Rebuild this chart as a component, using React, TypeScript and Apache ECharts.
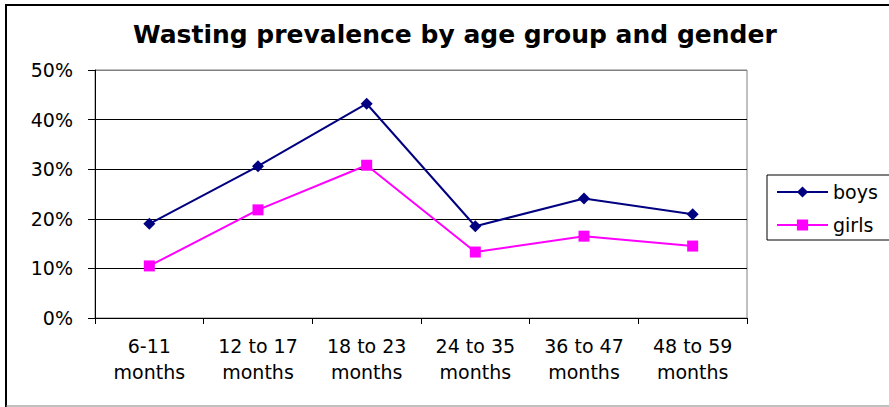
import React, { useEffect, useRef } from "react";
import * as echarts from "echarts";

const titleText = "Wasting prevalence by age group and gender";
const categories = [
  "6-11\nmonths",
  "12 to 17\nmonths",
  "18 to 23\nmonths",
  "24 to 35\nmonths",
  "36 to 47\nmonths",
  "48 to 59\nmonths",
];
const boys = [0.19, 0.306, 0.432, 0.185, 0.241, 0.209];
const girls = [0.105, 0.218, 0.308, 0.133, 0.165, 0.145];

const FONT = "'DejaVu Sans', sans-serif";

export default function App() {
  const ref = useRef<HTMLDivElement>(null);
  useEffect(() => {
    document.body.style.margin = "0";
    const chart = echarts.init(ref.current!, undefined, { renderer: "svg" });
    chart.setOption({
      animation: false,
      backgroundColor: "#ffffff",
      title: {
        text: titleText,
        left: 133,
        top: 22,
        padding: 0,
        textStyle: { fontFamily: FONT, fontWeight: "bold", fontSize: 25, color: "#000" },
      },
      legend: {
        orient: "vertical",
        left: 767,
        top: 175,
        padding: [7, 30, 5, 9],
        itemGap: 13,
        itemWidth: 51,
        itemHeight: 14,
        borderColor: "#000",
        borderWidth: 1,
        textStyle: { fontFamily: FONT, fontSize: 19, color: "#000", lineHeight: 20 },
        data: ["boys", "girls"],
      },
      grid: {
        left: 95,
        right: 142,
        top: 70,
        bottom: 89,
        show: true,
        borderColor: "#808080",
        borderWidth: 1,
        backgroundColor: "transparent",
      },
      xAxis: {
        type: "category",
        data: categories,
        boundaryGap: true,
        axisLine: { show: true, lineStyle: { color: "#000", width: 1 } },
        axisTick: { show: true, alignWithLabel: false, length: 6, lineStyle: { color: "#000" } },
        axisLabel: {
          interval: 0,
          margin: 15,
          fontFamily: FONT,
          fontSize: 19,
          lineHeight: 26,
          color: "#000",
        },
        splitLine: { show: false },
      },
      yAxis: {
        type: "value",
        min: 0,
        max: 0.5,
        interval: 0.1,
        axisLine: { show: true, lineStyle: { color: "#000", width: 1 } },
        axisTick: { show: true, length: 7, lineStyle: { color: "#000" } },
        axisLabel: {
          margin: 22,
          fontFamily: FONT,
          fontSize: 19,
          color: "#000",
          formatter: (v: number) => Math.round(v * 100) + "%",
        },
        splitLine: {
          show: true,
          lineStyle: { color: ["#000", "#000", "#000", "#000", "#000", "#808080"], width: 1 },
        },
      },
      series: [
        {
          name: "boys",
          type: "line",
          data: boys,
          symbol: "diamond",
          symbolSize: 12,
          itemStyle: { color: "#000080" },
          lineStyle: { color: "#000080", width: 2 },
        },
        {
          name: "girls",
          type: "line",
          data: girls,
          symbol: "rect",
          symbolSize: 11,
          itemStyle: { color: "#ff00ff" },
          lineStyle: { color: "#ff00ff", width: 2 },
        },
      ],
      graphic: [
        { type: "line", shape: { x1: 6, y1: 4, x2: 6, y2: 407 }, style: { stroke: "#000", lineWidth: 2 } },
        { type: "line", shape: { x1: 5, y1: 5, x2: 889, y2: 5 }, style: { stroke: "#000", lineWidth: 2 } },
        { type: "line", shape: { x1: 6, y1: 406, x2: 889, y2: 406 }, style: { stroke: "#808080", lineWidth: 1 } },
      ],
    });
    return () => chart.dispose();
  }, []);
  return (
    <div
      ref={ref}
      style={{ position: "fixed", left: 0, top: 0, width: 889, height: 407 }}
    />
  );
}
